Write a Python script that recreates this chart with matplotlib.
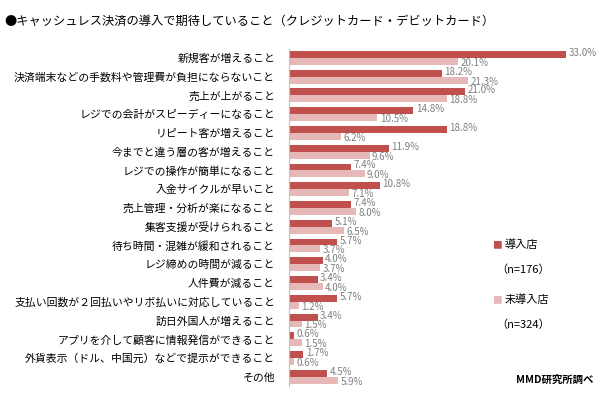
import matplotlib
matplotlib.use("Agg")
import matplotlib.pyplot as plt
import numpy as np

plt.rcParams['font.family'] = ['Noto Sans CJK JP', 'DejaVu Sans']

categories = [
    "新規客が増えること",
    "決済端末などの手数料や管理費が負担にならないこと",
    "売上が上がること",
    "レジでの会計がスピーディーになること",
    "リピート客が増えること",
    "今までと違う層の客が増えること",
    "レジでの操作が簡単になること",
    "入金サイクルが早いこと",
    "売上管理・分析が楽になること",
    "集客支援が受けられること",
    "待ち時間・混雑が緩和されること",
    "レジ締めの時間が減ること",
    "人件費が減ること",
    "支払い回数が２回払いやリボ払いに対応していること",
    "訪日外国人が増えること",
    "アプリを介して顧客に情報発信ができること",
    "外貨表示（ドル、中国元）などで提示ができること",
    "その他",
]
introduced = [33.0, 18.2, 21.0, 14.8, 18.8, 11.9, 7.4, 10.8, 7.4, 5.1, 5.7, 4.0, 3.4, 5.7, 3.4, 0.6, 1.7, 4.5]
not_introduced = [20.1, 21.3, 18.8, 10.5, 6.2, 9.6, 9.0, 7.1, 8.0, 6.5, 3.7, 3.7, 4.0, 1.2, 1.5, 1.5, 0.6, 5.9]
series_names = ["導入店", "未導入店"]
n_labels = ["（n=176）", "（n=324）"]

dark = "#C0504D"
light = "#E6B9B8"

fig = plt.figure(figsize=(6.09, 4.01), dpi=100)
ax = fig.add_axes([0.4745, 0.037, 0.51, 0.842])

y = np.arange(len(categories))
h = 0.37
ax.barh(y - h / 2, introduced, height=h, color=dark)
ax.barh(y + h / 2, not_introduced, height=h, color=light)

for yi, v in zip(y, introduced):
    ax.text(v + 0.3, yi - h / 2 - 0.08, f"{v:.1f}%", fontsize=7, color="#7F7F7F",
            va="center", ha="left")
for yi, v in zip(y, not_introduced):
    ax.text(v + 0.3, yi + h / 2 + 0.08, f"{v:.1f}%", fontsize=7, color="#7F7F7F",
            va="center", ha="left")

ax.set_ylim(len(categories) - 0.5, -0.5)
ax.set_xlim(0, 37)
ax.set_yticks(y)
ax.set_yticklabels(categories, fontsize=7.8)
ax.tick_params(axis='y', length=0, pad=10)
ax.set_xticks([])
for s in ["top", "right", "bottom"]:
    ax.spines[s].set_visible(False)
ax.spines["left"].set_color("#BFBFBF")

fig.text(0.008, 0.948, "●キャッシュレス決済の導入で期待していること（クレジットカード・デビットカード）",
         fontsize=8.8, va="center", ha="left")

# legend
fig.text(0.808, 1 - 245 / 401, "■", color=dark, fontsize=7, va="center", ha="left")
fig.text(0.828, 1 - 245 / 401, series_names[0], fontsize=8, va="center", ha="left")
fig.text(0.815, 1 - 270 / 401, n_labels[0], fontsize=8, va="center", ha="left")
fig.text(0.808, 1 - 300 / 401, "■", color=light, fontsize=7, va="center", ha="left")
fig.text(0.828, 1 - 300 / 401, series_names[1], fontsize=8, va="center", ha="left")
fig.text(0.815, 1 - 325 / 401, n_labels[1], fontsize=8, va="center", ha="left")

fig.text(0.975, 1 - 380 / 401, "MMD研究所調べ", fontsize=7.5, fontweight="bold",
         va="center", ha="right")

fig.savefig("out.png", dpi=100)
